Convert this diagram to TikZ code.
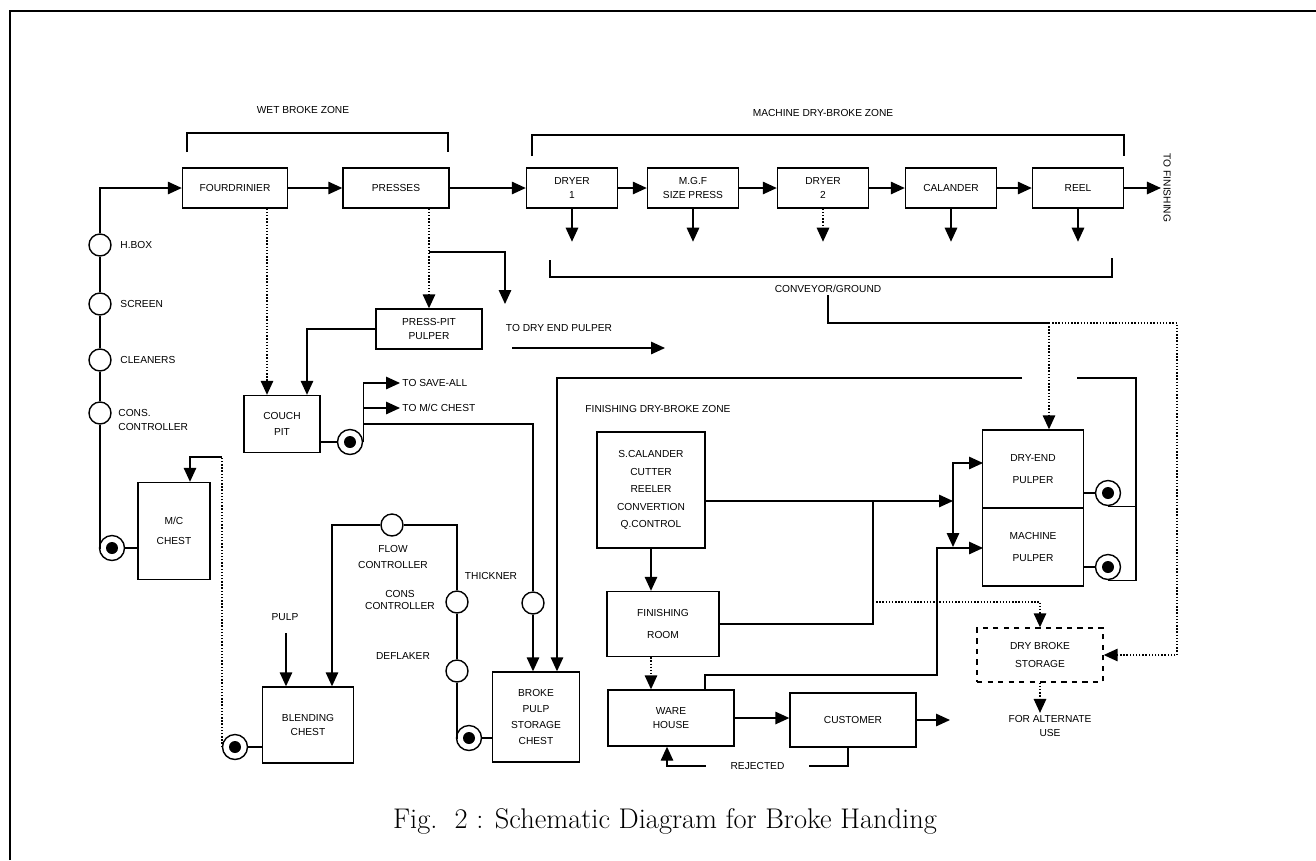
\documentclass[tikz,border=0pt]{standalone}
\usepackage{fontspec}
\newfontfamily\diafont{Liberation Sans}
\usetikzlibrary{arrows.meta}

\begin{document}
\begin{tikzpicture}
[x=0.02cm, y=-0.02cm, line width=0.8pt, >={Triangle[length=2.8mm, width=2.5mm]},
lbl/.style={font=\diafont\fontsize{5.8}{8}\selectfont, inner sep=1pt, align=center},
unit/.style={rectangle, draw, lbl, minimum width=1.82cm, minimum height=0.8cm},
valve/.style={circle, draw, fill=white, inner sep=0pt, minimum size=4.4mm},
pump/.style={circle, draw, fill=white, inner sep=0pt, minimum size=5mm, path picture={\fill[black] (path picture bounding box.center) circle (1.2mm);}},
dots/.style={densely dotted}
]

\useasboundingbox (0,0) rectangle (1316,860);
\draw[line width=1.6pt] (10,860) -- (10,11) -- (1316,11);

\node[lbl] (wetz) at (303,110) {WET BROKE ZONE};
\node[lbl] (machz) at (823,113) {MACHINE DRY-BROKE ZONE};
\node[lbl] (conv) at (828,289) {CONVEYOR/GROUND};
\node[lbl, anchor=west] (finz) at (583,409) {FINISHING DRY-BROKE ZONE};

\draw (187,152) -- (187,133) -- (448,133) -- (448,152);
\draw (532,156) -- (532,135) -- (1124,135) -- (1124,156);
\draw (550,260) -- (550,277) -- (1112,277) -- (1112,258);

\node[unit, minimum width=2.1cm] (four) at (235,188) {FOURDRINIER};
\node[unit, minimum width=2.12cm] (press) at (396,188) {PRESSES};
\node[unit] (dry1) at (572,188) {DRYER\\1};
\node[unit] (mgf) at (693,188) {M.G.F\\SIZE PRESS};
\node[unit] (dry2) at (823,188) {DRYER\\2};
\node[unit] (cal) at (951,188) {CALANDER};
\node[unit] (reel) at (1078,188) {REEL};
\node[lbl, rotate=-90] (tofin) at (1167,188) {TO FINISHING};

\node[valve] (hbox) at (100,245) {};
\node[valve] (screen) at (100,304) {};
\node[valve] (clean) at (100,360) {};
\node[valve] (cons) at (100,413) {};
\node[pump] (pmc) at (112,548) {};
\node[lbl, anchor=west] (thbox) at (118,245) {H.BOX};
\node[lbl, anchor=west] (tscreen) at (118,304) {SCREEN};
\node[lbl, anchor=west] (tclean) at (118,360) {CLEANERS};
\node[lbl, anchor=west, align=left] (tcons) at (116,420) {CONS.\\CONTROLLER};

\node[unit, minimum width=1.44cm, minimum height=1.94cm] (mcchest) at (174,531) {M/C\\[3pt]CHEST};
\node[unit, minimum width=1.52cm, minimum height=1.14cm] (couch) at (282,424) {COUCH\\[1pt]PIT};
\node[unit, minimum width=2.12cm] (pitpulp) at (429,329) {PRESS-PIT\\PULPER};
\node[pump] (pcouch) at (350,442) {};
\node[lbl, anchor=west] (tsave) at (400,383) {TO SAVE-ALL};
\node[lbl, anchor=west] (tmc) at (400,408) {TO M/C CHEST};
\node[lbl] (tdep) at (559,328) {TO DRY END PULPER};

\node[valve] (flow) at (392,525) {};
\node[valve] (conscon) at (457,602) {};
\node[valve] (defl) at (457,671) {};
\node[valve] (thick) at (533,603) {};
\node[pump] (pblend) at (235,747) {};
\node[pump] (pbroke) at (469,738) {};
\node[lbl] (tflow) at (393,557) {FLOW\\[1.5pt]CONTROLLER};
\node[lbl] (tthick) at (491,576) {THICKNER};
\node[lbl] (tconscon) at (400,600) {CONS\\[-1pt]CONTROLLER};
\node[lbl] (tdefl) at (403,656) {DEFLAKER};
\node[lbl] (tpulp) at (285,617) {PULP};
\node[unit, minimum width=1.82cm, minimum height=1.52cm] (blend) at (308,725) {BLENDING\\CHEST};
\node[unit, minimum width=1.74cm, minimum height=1.8cm] (broke) at (536,717) {BROKE\\[1pt]PULP\\[1pt]STORAGE\\[1pt]CHEST};

\node[unit, minimum width=2.16cm, minimum height=2.32cm] (scal) at (651,490) {S.CALANDER\\[2pt]CUTTER\\[2pt]REELER\\[2pt]CONVERTION\\[2pt]Q.CONTROL};
\node[unit, minimum width=2.24cm, minimum height=1.3cm] (finroom) at (663,624) {FINISHING\\[4.5pt]ROOM};
\node[unit, minimum width=2.52cm, minimum height=1.12cm] (ware) at (671,718) {WARE\\[0.5pt]HOUSE};
\node[unit, minimum width=2.52cm, minimum height=1.08cm] (cust) at (853,720) {CUSTOMER};
\node[unit, minimum width=2.02cm, minimum height=1.56cm] (dryend) at (1033,469) {DRY-END\\[5pt]PULPER};
\node[unit, minimum width=2.02cm, minimum height=1.56cm] (machpulp) at (1033,547) {MACHINE\\[5pt]PULPER};
\node[unit, dashed, minimum width=2.52cm, minimum height=1.08cm] (dbs) at (1040,655) {DRY BROKE\\[2pt]STORAGE};
\node[pump] (pdry) at (1108,493) {};
\node[pump] (pmach) at (1108,567) {};
\node[lbl] (talt) at (1050,726) {FOR ALTERNATE\\USE};

\coordinate (fc) at (267,300);
\coordinate (pc) at (307,329);
\coordinate (pb) at (429,252);
\coordinate (tdp) at (505,304);
\coordinate (dpa) at (512,348);
\coordinate (dpb) at (665,348);
\coordinate (mcin) at (190,457);
\coordinate (tk) at (533,424);
\coordinate (fl) at (332,525);
\coordinate (pl) at (286,633);
\coordinate (rb) at (1136,378);
\coordinate (g1) at (1077,378);
\coordinate (g2) at (1022,378);
\coordinate (bk) at (557,378);
\coordinate (cj) at (1049,323);
\coordinate (rt) at (1177,323);
\coordinate (sj) at (953,501);
\coordinate (de) at (983,463);
\coordinate (sd) at (953,547);
\coordinate (wh) at (705,675);
\coordinate (wj) at (937,675);
\coordinate (mp) at (983,548);
\coordinate (fj) at (873,501);
\coordinate (fd) at (873,602);
\coordinate (co) at (950,720);
\coordinate (rj) at (848,766);
\coordinate (rjb) at (667,766);

\draw[->] (four) -- (press);
\draw[->] (press) -- (dry1);
\draw[->] (dry1) -- (mgf);
\draw[->] (mgf) -- (dry2);
\draw[->] (dry2) -- (cal);
\draw[->] (cal) -- (reel);
\draw[->] (reel) -- (tofin.south);
\foreach \n/\s in {dry1/solid, mgf/solid, dry2/densely dotted, cal/solid, reel/solid} {
  \coordinate (\n-c) at ([yshift=-0.66cm]\n.south);
  \draw[->, \s] (\n.south) -- (\n-c);
}

\draw (cons) -- (cons |- pmc.west) -- (pmc.west);
\foreach \a/\b in {cons/clean, clean/screen, screen/hbox}
  \draw (\a) -- (\b);
\draw[->] (hbox) |- (four);
\draw (pmc) -- (pmc -| mcchest.west);
\draw[dots] (pblend.west) -- (pblend.west |- mcin);
\draw[->] (pblend.west |- mcin) -- (mcin) -- (mcin |- mcchest.north);
\draw (pblend) -- (pblend -| blend.west);

\draw[->, dots] (four.south -| fc) -- (couch.north -| fc);
\draw[->, dots] (press.south -| pitpulp) -- (pitpulp.north);
\draw[->] (pb) -| (tdp);
\draw[->] (dpa) -- (dpb);
\draw[->] (pitpulp.west) -| (couch.north -| pc);
\draw (couch.east |- pcouch) -- (pcouch);
\draw[->] (pcouch.east) |- (tsave.west);
\draw[->] (pcouch.east |- tmc.west) -- (tmc.west);
\draw (pcouch.east |- tk) -- (tk) -- (thick);
\draw[->] (thick) -- (broke.north -| thick);

\draw[->] (flow) -| (blend.north -| fl);
\draw (flow) -| (conscon);
\draw (conscon) -- (defl);
\draw (defl) -- (defl |- pbroke.west) -- (pbroke.west);
\draw (pbroke) -- (pbroke -| broke.west);
\draw[->] (pl) -- (blend.north -| pl);

\draw (dryend.east |- pdry) -- (pdry);
\draw (machpulp.east |- pmach) -- (pmach);
\draw (pdry.south) -- (pdry.south -| rb);
\draw[->] (pmach.south) -| (rb) -- (g1) (g2) -- (bk) -- (broke.north -| bk);

\draw (conv.south) |- (cj);
\draw[->, dots] (cj) -- (dryend.north -| cj);
\draw[->, dots] (cj) -- (rt) |- (dbs.east);

\draw[->] (scal.east |- sj) -- (sj);
\draw[->] (sj) |- (de);
\draw[->] (sj) -- (sd);
\draw[->] (ware.north -| wh) |- (wj) |- (mp);
\draw (finroom.east) -| (fj);
\draw[->, dots] (fd) -| (dbs.north);
\draw[->] (scal) -- (finroom.north -| scal);
\draw[->, dots] (finroom.south -| scal) -- (ware.north -| scal);
\draw[->] (ware.east) -- (cust.west |- ware.east);
\draw[->] (cust.east) -- (co);
\draw[->] (cust.south -| rj) -- (rj) -- node[lbl, fill=white, inner xsep=14pt] (rej) {REJECTED} (rjb) -- (ware.south -| rjb);
\draw[->, dots] (dbs.south) -- (dbs.south |- talt.north);

\node[font=\fontsize{16.2}{19}\selectfont] (cap) at (665,821) {Fig.\ \ 2 : Schematic Diagram for Broke Handing};

\end{tikzpicture}
\end{document}
